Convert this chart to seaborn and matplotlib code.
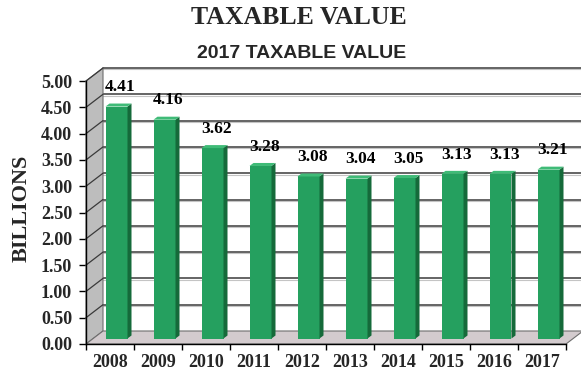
import numpy as np
import pandas as pd
import matplotlib
matplotlib.use("Agg")
import matplotlib.pyplot as plt
import seaborn as sns
from matplotlib.patches import Polygon

# Taxable value by year, in billions
years = ["2008", "2009", "2010", "2011", "2012", "2013", "2014", "2015", "2016", "2017"]
values = [4.41, 4.16, 3.62, 3.28, 3.08, 3.04, 3.05, 3.13, 3.13, 3.21]
y_ticks = [0.0, 0.5, 1.0, 1.5, 2.0, 2.5, 3.0, 3.5, 4.0, 4.5, 5.0]
y_tick_labels = ["%.2f" % v for v in y_ticks]

sns.set_theme(style="white")
plt.rcParams["font.family"] = ["Liberation Serif", "DejaVu Serif"]

W, H = 581, 374
fig = plt.figure(figsize=(W / 100, H / 100), dpi=100)
fig.patch.set_facecolor("white")

# front plane of the 3-D box, in pixels
L, R, B, T = 86, 566, 344, 81
ax = fig.add_axes([L / W, 1 - B / H, (R - L) / W, (B - T) / H])
ax.set_facecolor("none")
n = len(years)
ax.set_xlim(-0.5, n - 0.5)
ax.set_ylim(0, 5)

px_x = n / (R - L)
px_y = 5 / (B - T)
dx, dy = 17 * px_x, 13 * px_y  # box depth

x0, x1 = -0.5, n - 0.5
wall_kw = dict(clip_on=False, transform=ax.transData)

# back wall
ax.add_patch(Polygon([(x0 + dx, dy), (x1 + dx, dy), (x1 + dx, 5 + dy), (x0 + dx, 5 + dy)],
                     closed=True, facecolor="white", edgecolor="none", zorder=0, **wall_kw))
# side wall
ax.add_patch(Polygon([(x0, 0), (x0 + dx, dy), (x0 + dx, 5 + dy), (x0, 5)],
                     closed=True, facecolor="#bdbdbd", edgecolor="#6e6e6e", lw=0.8, zorder=1, **wall_kw))
# floor
ax.add_patch(Polygon([(x0, 0), (x1, 0), (x1 + dx, dy), (x0 + dx, dy)],
                     closed=True, facecolor="#d3cbce", edgecolor="#6e6e6e", lw=0.8, zorder=1, **wall_kw))

# gridlines on the back and side walls
for yv in y_ticks[1:]:
    ax.plot([x0 + dx, x1 + dx], [yv + dy, yv + dy], color="#3a3a3a", lw=1.1, zorder=0.5, clip_on=False)
    ax.plot([x0 + dx, x1 + dx], [yv + dy - 1.3 * px_y, yv + dy - 1.3 * px_y],
            color="#c4c4c4", lw=0.8, zorder=0.4, clip_on=False)
    ax.plot([x0, x0 + dx], [yv, yv + dy], color="#3a3a3a", lw=0.9, zorder=1.5, clip_on=False)

# bars
df = pd.DataFrame({"year": years, "value": values})
front = "#25a05f"
side = "#156a3a"
top = "#3fbb77"
sns.barplot(data=df, x="year", y="value", ax=ax, color=front, saturation=1,
            width=22 * px_x, zorder=5, edgecolor="none")

bx, by = 6.5 * px_x, 5.5 * px_y   # bar placement inside the box
sx, sy = 4 * px_x, 3 * px_y       # bar depth
for p, v in zip(ax.patches[-n:], values):
    p.set_x(p.get_x() + bx)
    p.set_y(by)
    xl = p.get_x()
    xr = xl + p.get_width()
    ytop = by + p.get_height()
    ax.add_patch(Polygon([(xr, by), (xr + sx, by + sy), (xr + sx, ytop + sy), (xr, ytop)],
                         closed=True, facecolor=side, edgecolor="none", zorder=5))
    ax.add_patch(Polygon([(xl, ytop), (xr, ytop), (xr + sx, ytop + sy), (xl + sx, ytop + sy)],
                         closed=True, facecolor=top, edgecolor="none", zorder=5))
    ax.annotate("%.2f" % v, xy=((xl + xr + sx) / 2 + 2 * px_x, ytop + sy), xytext=(0, 6),
                textcoords="offset points", ha="center", va="bottom",
                fontsize=12.5, fontweight="bold", color="black", zorder=6,
                annotation_clip=False)

# axes
for s in ["top", "right"]:
    ax.spines[s].set_visible(False)
for s in ["left", "bottom"]:
    ax.spines[s].set_visible(True)
    ax.spines[s].set_color("black")
    ax.spines[s].set_linewidth(1.0)
    ax.spines[s].set_zorder(2)

ax.set_yticks(y_ticks)
ax.set_yticklabels(y_tick_labels)
ax.set_xticks(np.arange(n + 1) - 0.5)
ax.set_xticklabels([""] * (n + 1))
ax.set_xticks(np.arange(n), minor=True)
ax.set_xticklabels(years, minor=True)
ax.tick_params(axis="y", which="major", direction="out", length=5, width=1, color="black",
               pad=5, labelsize=13, left=True)
ax.tick_params(axis="x", which="major", direction="out", length=4.5, width=1, color="black",
               bottom=True)
ax.tick_params(axis="x", which="minor", length=0, pad=7.5, labelsize=13, bottom=True)
for lab in ax.get_yticklabels() + ax.get_xticklabels(minor=True):
    lab.set_fontweight("bold")
ax.set_xlabel("")
ax.set_ylabel("")
ax.grid(False)

fig.text(22 / W, 1 - 208 / H, "BILLIONS", rotation=90, ha="center", va="center",
         fontsize=16, fontweight="bold")
fig.text(299 / W, 1 - 18 / H, "TAXABLE VALUE", ha="center", va="center",
         fontsize=18.5, fontweight="bold")
fig.text(302 / W, 1 - 53 / H, "2017 TAXABLE VALUE", ha="center", va="center",
         fontsize=14, fontweight="bold", family=["Liberation Sans", "DejaVu Sans"])

fig.savefig("out.png", dpi=100, facecolor="white")
